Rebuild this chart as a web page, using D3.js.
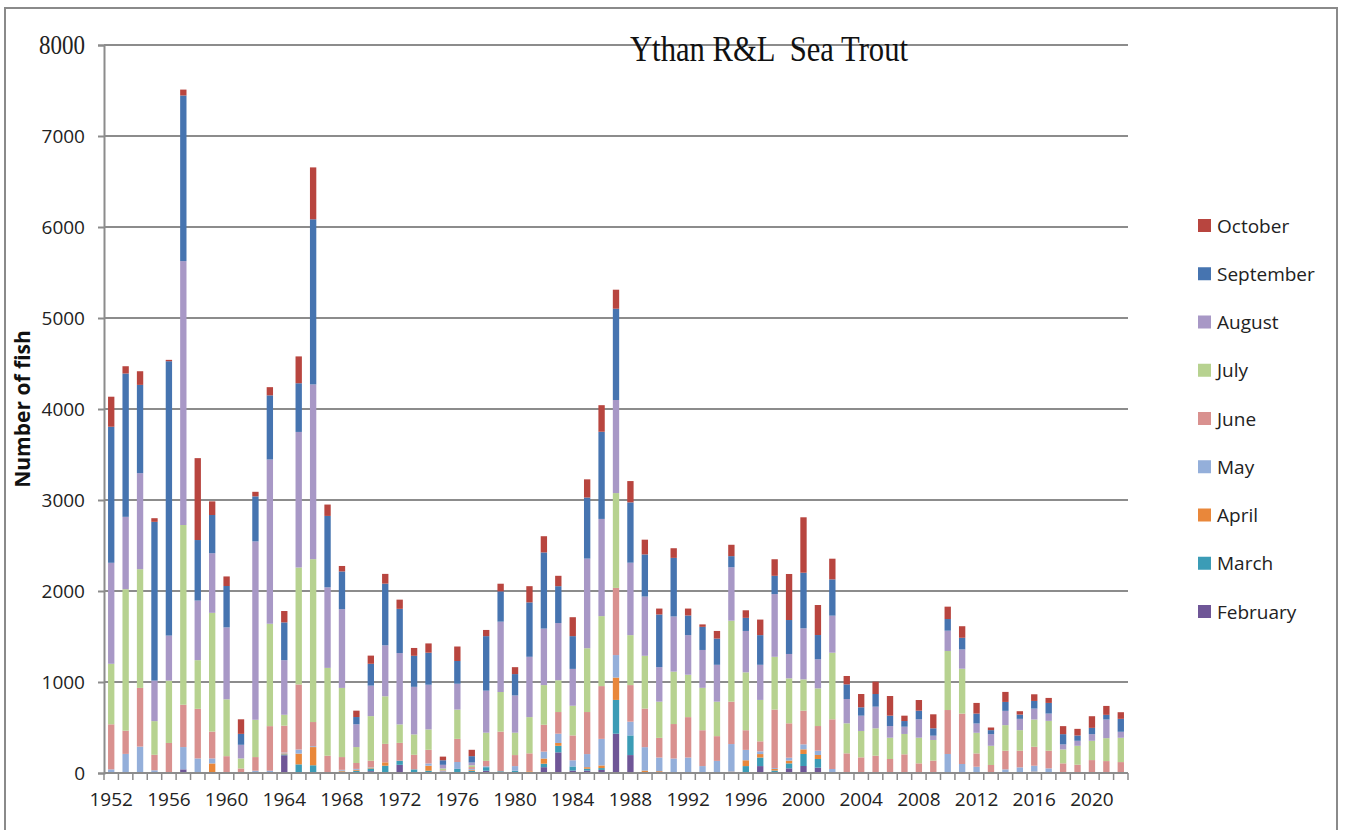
<!DOCTYPE html>
<html>
<head>
<meta charset="utf-8">
<script src="https://cdn.jsdelivr.net/npm/d3@7"></script>
<style>
  body { margin: 0; background: #fff; }
  text { font-family: "Open Sans", sans-serif; }
</style>
</head>
<body>
<div id="chart"></div>
<script>
// years 1952..2022
const years = d3.range(1952, 2023)

// monthly counts, one value per year (1952..2022)
const february = [0,0,0,0,0,40,0,0,0,0, 0,0,195,0,0,0,0,10,20,10, 90,0,0,0,0,10,25,0,0,0, 64,227,27,27,34,432,197,0,0,0, 0,0,0,0,0,76,0,51,77,59, 0,0,0,0,0,0,0,0,0,0, 0,0,0,0,0,0,0,0,0,0, 0]
const march = [0,0,0,0,0,0,0,0,0,0, 0,0,10,95,85,0,15,15,30,70, 45,40,25,0,45,15,39,19,25,0, 38,72,45,20,20,371,216,0,0,0, 0,0,0,0,76,94,27,55,132,95, 0,0,0,0,0,0,0,0,0,0, 0,0,0,0,0,0,0,0,0,0, 0]
const april = [10,0,0,0,0,0,0,105,0,0, 0,0,10,118,200,0,10,10,10,37, 0,0,55,10,0,10,0,0,0,19, 57,31,0,17,29,246,0,27,20,0, 0,0,0,15,64,38,18,30,51,44, 0,0,0,0,0,0,0,0,0,0, 10,0,0,0,15,0,0,0,0,10, 0]
const may = [30,210,290,30,0,245,160,55,0,0, 25,25,10,45,10,0,10,10,5,0, 0,0,25,10,76,10,10,0,51,0, 76,102,68,144,292,247,151,257,150,159, 170,76,133,303,114,30,10,32,55,47, 44,0,10,10,0,5,0,0,209,99, 59,0,40,62,65,51,0,0,0,0, 0]
const june = [495,255,645,170,330,465,545,295,185,50, 150,490,295,715,265,190,140,65,70,203, 196,160,150,10,254,20,59,436,121,197, 295,238,273,462,580,738,402,424,216,379, 444,394,272,466,216,110,642,378,370,271, 546,216,162,180,154,200,106,136,483,554, 146,88,205,183,208,194,106,91,142,121, 120]
const july = [665,1555,1305,370,685,1975,535,1305,625,110, 410,1125,120,1285,1790,965,760,175,490,523, 203,224,224,20,322,20,310,435,246,398, 436,349,326,701,769,1042,549,580,398,576, 466,466,379,890,636,455,580,494,344,414, 732,330,290,301,234,224,282,227,649,493, 227,211,281,226,300,328,153,208,212,252, 267]
const august = [1110,795,1055,445,495,2900,655,655,790,150, 1960,1805,600,1490,1920,885,865,250,335,560, 784,523,491,40,284,30,462,773,409,663, 621,629,405,985,1068,1023,796,651,379,606, 435,416,405,587,455,386,689,268,561,319, 407,267,168,238,128,80,202,47,223,212, 102,128,157,124,120,80,55,55,73,205, 66]
const september = [1495,1575,970,1745,3015,1820,665,420,455,120, 495,705,415,535,1815,785,415,80,240,678, 486,341,352,50,250,70,599,333,235,598, 837,405,360,671,958,1003,663,463,579,644, 216,254,288,122,144,326,201,373,611,267, 399,161,92,139,114,62,95,81,128,128, 109,44,98,47,84,117,113,58,69,51, 142]
const october = [330,80,150,40,15,65,900,150,105,160, 50,90,125,295,570,125,60,70,90,107, 101,86,102,40,159,70,68,84,76,178, 178,114,208,200,292,209,234,162,65,106, 76,27,84,125,83,171,182,506,609,330, 227,92,146,136,216,59,117,154,136,127, 117,29,110,37,73,55,88,73,128,98, 73]

const months = ["February", "March", "April", "May", "June", "July", "August", "September", "October"]
const monthValues = [february, march, april, may, june, july, august, september, october]
const yTicks = [0, 1000, 2000, 3000, 4000, 5000, 6000, 7000, 8000]

width = 1349
height = 830

var color = d3.scaleOrdinal()
    .domain(months)
    .range(["#6f5697", "#3b9cb6", "#e9873a", "#94afda", "#d9918f", "#b7d290", "#a898c6", "#4674b0", "#b8453f"])

// build rows for d3.stack
let table = years.map((yr, i) => {
    let row = { year: yr }
    months.forEach((m, j) => { row[m] = monthValues[j][i] })
    return row
})

let svg = d3.select("#chart")
    .append("svg")
    .attr("width", width)
    .attr("height", height)

// outer frame of the picture
svg.append("rect")
    .attr("x", 5).attr("y", 8)
    .attr("width", 1332).attr("height", 840)
    .attr("fill", "none")
    .attr("stroke", "#8a8a8a")
    .attr("stroke-width", 2)

let x = d3.scaleBand()
    .domain(years)
    .range([104, 1128])
    .paddingInner(0.56)
    .paddingOuter(0.28)

let y = d3.scaleLinear()
    .domain([0, 8000])
    .range([773, 45])

// gridlines
svg.append("g")
    .selectAll("line")
    .data(yTicks.slice(1))
  .enter().append("line")
    .attr("x1", 104).attr("x2", 1128)
    .attr("y1", d => y(d)).attr("y2", d => y(d))
    .attr("stroke", "#8c8c8c")
    .attr("stroke-width", 2)

let series = d3.stack().keys(months)(table)

svg.append("g")
    .selectAll("g")
    .data(series)
  .enter().append("g")
    .attr("fill", d => color(d.key))
    .selectAll("rect")
    .data(d => d)
  .enter().append("rect")
    .attr("x", d => x(d.data.year))
    .attr("y", d => y(d[1]))
    .attr("width", x.bandwidth())
    .attr("height", d => y(d[0]) - y(d[1]))

// y axis
let yAxis = svg.append("g")
    .attr("transform", "translate(104,0)")
    .call(d3.axisLeft(y).tickValues(yTicks).tickSize(6).tickPadding(13).tickFormat(d3.format("d")))
yAxis.select(".domain").attr("stroke", "#8c8c8c").attr("stroke-width", 2)
yAxis.selectAll(".tick line").attr("stroke", "#8c8c8c").attr("stroke-width", 2)
yAxis.selectAll(".tick text")
    .style("font-family", "'Open Sans', sans-serif")
    .style("font-size", "19px")
    .attr("fill", "#222")
// the top label in the picture is a narrow serif
yAxis.selectAll(".tick text").filter(d => d == 8000)
    .style("font-family", "'Liberation Serif', serif")
    .style("font-size", "27px")
    .attr("textLength", 46)
    .attr("lengthAdjust", "spacingAndGlyphs")

// x axis: line plus a tick between every category
svg.append("line")
    .attr("x1", 104).attr("x2", 1128)
    .attr("y1", 773).attr("y2", 773)
    .attr("stroke", "#8c8c8c").attr("stroke-width", 2)

let step = x.step()
svg.append("g")
    .selectAll("line")
    .data(d3.range(years.length + 1))
  .enter().append("line")
    .attr("x1", i => 104 + i * step).attr("x2", i => 104 + i * step)
    .attr("y1", 773).attr("y2", 780)
    .attr("stroke", "#8c8c8c").attr("stroke-width", 1.5)

svg.append("g")
    .selectAll("text")
    .data(years.filter(yr => (yr - 1952) % 4 == 0))
  .enter().append("text")
    .attr("x", d => x(d) + x.bandwidth() / 2)
    .attr("y", 806)
    .attr("text-anchor", "middle")
    .style("font-size", "19px")
    .attr("fill", "#222")
    .text(d => d)

// axis title
svg.append("text")
    .attr("transform", "translate(30,409) rotate(-90)")
    .attr("text-anchor", "middle")
    .style("font-size", "21px")
    .style("font-weight", "bold")
    .attr("fill", "#111")
    .text("Number of fish")

// chart title (narrow serif)
svg.append("text")
    .attr("x", 630)
    .attr("y", 61)
    .style("font-family", "'Liberation Serif', serif")
    .style("font-size", "36px")
    .style("white-space", "pre")
    .attr("textLength", 278)
    .attr("lengthAdjust", "spacingAndGlyphs")
    .attr("fill", "#111")
    .text("Ythan R&L  Sea Trout")

// legend, October on top
let legend = svg.append("g")
    .selectAll("g")
    .data(months.slice().reverse())
  .enter().append("g")
    .attr("transform", (d, i) => `translate(1198, ${226 + i * 48.25})`)

legend.append("rect")
    .attr("x", 0).attr("y", -7)
    .attr("width", 13).attr("height", 13)
    .attr("fill", d => color(d))

legend.append("text")
    .attr("x", 19)
    .attr("y", 0)
    .attr("dy", "0.35em")
    .style("font-size", "19px")
    .attr("fill", "#222")
    .text(d => d)
</script>
</body>
</html>
